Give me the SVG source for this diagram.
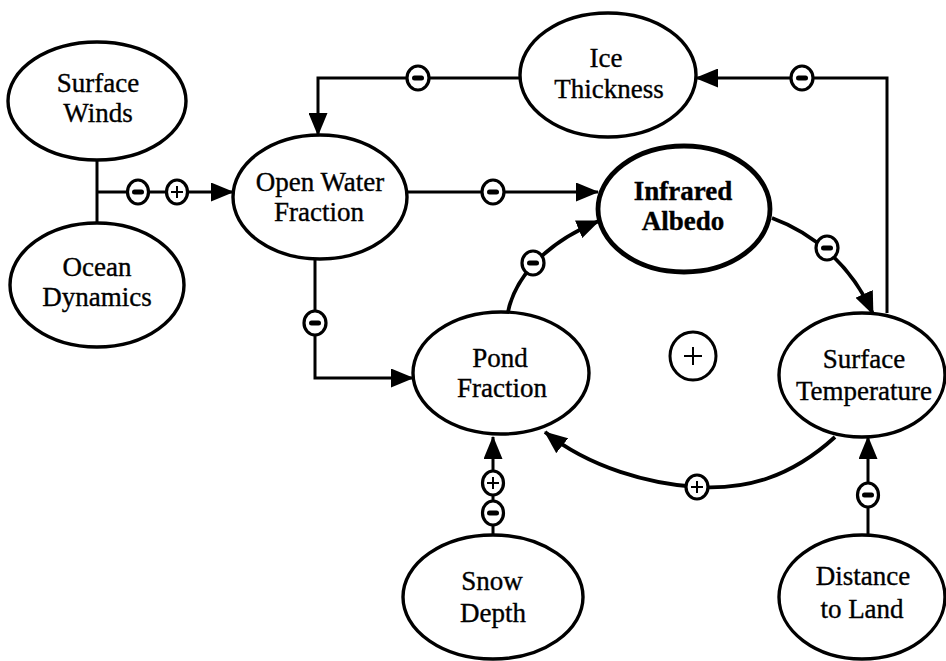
<svg xmlns="http://www.w3.org/2000/svg" width="946" height="661" viewBox="0 0 946 661">
  <defs>
    <marker id="arrow" viewBox="0 0 23 19" refX="22" refY="9.5" markerWidth="23" markerHeight="19" markerUnits="userSpaceOnUse" orient="auto">
      <path d="M0,0 L23,9.5 L0,19 Z" fill="#000"/>
    </marker>
  </defs>
  <style>
    .node { fill: #fff; stroke: #000; stroke-width: 3.4; }
    .node.bold { stroke-width: 4.8; }
    .label { font-family: "Liberation Serif", "Times New Roman", serif; font-size: 27px; fill: #000; stroke: #000; stroke-width: 0.35; text-anchor: middle; }
    .label.bold { font-weight: bold; }
    .line { fill: none; stroke: #000; stroke-width: 3; }
    .curve { fill: none; stroke: #000; stroke-width: 3.8; }
    .sign { fill: #fff; stroke: #000; stroke-width: 3.2; }
    .minus { fill: #000; }
    .plus { stroke: #000; stroke-width: 2; fill: none; }
  </style>
  <rect width="946" height="661" fill="#fff"/>

  <g id="connectors">
    <!-- winds / ocean junction feeding open water -->
    <path class="line" d="M97,160 L97,222"/>
    <path class="line" d="M97,192 L233,192" marker-end="url(#arrow)"/>
    <!-- ice thickness to open water -->
    <path class="line" d="M520,78 L318,78 L318,135" marker-end="url(#arrow)"/>
    <!-- surface temperature to ice thickness -->
    <path class="line" d="M887,313 L887,78 L696,78" marker-end="url(#arrow)"/>
    <!-- open water to infrared albedo -->
    <path class="line" d="M407,192 L598,192" marker-end="url(#arrow)"/>
    <!-- open water to pond fraction -->
    <path class="line" d="M315,258 L315,378 L413,378" marker-end="url(#arrow)"/>
    <!-- pond fraction to infrared albedo -->
    <path class="curve" d="M508,312 C514,282 540,245 599,221" marker-end="url(#arrow)"/>
    <!-- infrared albedo to surface temperature -->
    <path class="curve" d="M772,218 C810,232 850,262 873,314" marker-end="url(#arrow)"/>
    <!-- surface temperature to pond fraction -->
    <path class="curve" d="M835,437 C790,478 745,490 697,487 C650,484 590,468 545,432" marker-end="url(#arrow)"/>
    <!-- snow depth to pond fraction -->
    <path class="line" d="M493,535 L493,437" marker-end="url(#arrow)"/>
    <!-- distance to land to surface temperature -->
    <path class="line" d="M868,535 L868,437" marker-end="url(#arrow)"/>

    <!-- polarity markers on the links -->
    <g id="sign-winds-minus"><ellipse class="sign" cx="138" cy="192" rx="10.5" ry="12"/><rect class="minus" x="132" y="189.5" width="12" height="5" rx="2.5"/></g>
    <g id="sign-ocean-plus"><ellipse class="sign" cx="177" cy="192" rx="10.5" ry="12"/><path class="plus" d="M171,192 H183 M177,186 V198"/></g>
    <g id="sign-ice-open"><ellipse class="sign" cx="418" cy="78" rx="11" ry="12"/><rect class="minus" x="412" y="75.5" width="12" height="5" rx="2.5"/></g>
    <g id="sign-temp-ice"><ellipse class="sign" cx="802" cy="78" rx="11" ry="12"/><rect class="minus" x="796" y="75.5" width="12" height="5" rx="2.5"/></g>
    <g id="sign-open-albedo"><ellipse class="sign" cx="493" cy="192" rx="11" ry="12"/><rect class="minus" x="487" y="189.5" width="12" height="5" rx="2.5"/></g>
    <g id="sign-open-pond"><ellipse class="sign" cx="315" cy="323" rx="11" ry="12"/><rect class="minus" x="309" y="320.5" width="12" height="5" rx="2.5"/></g>
    <g id="sign-pond-albedo"><ellipse class="sign" cx="533" cy="263" rx="11" ry="12"/><rect class="minus" x="527" y="260.5" width="12" height="5" rx="2.5"/></g>
    <g id="sign-albedo-temp"><ellipse class="sign" cx="827" cy="248" rx="11" ry="12"/><rect class="minus" x="821" y="245.5" width="12" height="5" rx="2.5"/></g>
    <g id="sign-temp-pond"><ellipse class="sign" cx="697" cy="487" rx="11" ry="12"/><path class="plus" d="M691,487 H703 M697,481 V493"/></g>
    <g id="sign-snow-plus"><ellipse class="sign" cx="493" cy="483" rx="10.5" ry="12"/><path class="plus" d="M487,483 H499 M493,477 V489"/></g>
    <g id="sign-snow-minus"><ellipse class="sign" cx="493" cy="513" rx="10.5" ry="12"/><rect class="minus" x="487" y="510.5" width="12" height="5" rx="2.5"/></g>
    <g id="sign-land-temp"><ellipse class="sign" cx="868" cy="495" rx="10.5" ry="12"/><rect class="minus" x="862" y="492.5" width="12" height="5" rx="2.5"/></g>
  </g>

  <!-- loop polarity -->
  <g id="loop-sign">
    <ellipse cx="693" cy="356" rx="23" ry="24" fill="none" stroke="#000" stroke-width="3"/>
    <path d="M684,356 H702 M693,347 V365" stroke="#000" stroke-width="2" fill="none"/>
  </g>

  <g id="surface-winds">
    <ellipse class="node" cx="97" cy="101" rx="89" ry="59"/>
    <text class="label" x="98" y="92">Surface</text>
    <text class="label" x="98" y="122">Winds</text>
  </g>
  <g id="ocean-dynamics">
    <ellipse class="node" cx="97" cy="285" rx="87" ry="62"/>
    <text class="label" x="97" y="276">Ocean</text>
    <text class="label" x="97" y="306">Dynamics</text>
  </g>
  <g id="open-water-fraction">
    <ellipse class="node" cx="320" cy="197" rx="87" ry="62"/>
    <text class="label" x="320" y="191">Open Water</text>
    <text class="label" x="319" y="221">Fraction</text>
  </g>
  <g id="ice-thickness">
    <ellipse class="node" cx="608" cy="75" rx="88" ry="62"/>
    <text class="label" x="606" y="67">Ice</text>
    <text class="label" x="609" y="98">Thickness</text>
  </g>
  <g id="infrared-albedo">
    <ellipse class="node bold" cx="684" cy="209" rx="86" ry="63"/>
    <text class="label bold" x="683" y="200">Infrared</text>
    <text class="label bold" x="683" y="230">Albedo</text>
  </g>
  <g id="pond-fraction">
    <ellipse class="node" cx="501" cy="373" rx="88" ry="61"/>
    <text class="label" x="500" y="367">Pond</text>
    <text class="label" x="502" y="397">Fraction</text>
  </g>
  <g id="surface-temperature">
    <ellipse class="node" cx="862" cy="375" rx="83" ry="62"/>
    <text class="label" x="864" y="368">Surface</text>
    <text class="label" x="864" y="400">Temperature</text>
  </g>
  <g id="snow-depth">
    <ellipse class="node" cx="493" cy="597" rx="90" ry="62"/>
    <text class="label" x="492" y="590">Snow</text>
    <text class="label" x="493" y="622">Depth</text>
  </g>
  <g id="distance-to-land">
    <ellipse class="node" cx="862" cy="597" rx="83" ry="62"/>
    <text class="label" x="863" y="585">Distance</text>
    <text class="label" x="862" y="618">to Land</text>
  </g>
</svg>
